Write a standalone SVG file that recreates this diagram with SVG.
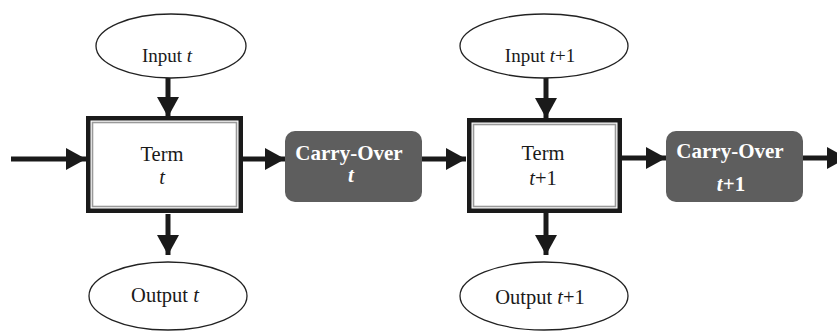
<svg xmlns="http://www.w3.org/2000/svg" width="837" height="331" viewBox="0 0 837 331">
<defs>
<marker id="ah" markerUnits="userSpaceOnUse" markerWidth="20" markerHeight="22" refX="20" refY="11" orient="auto">
<path d="M0,0 L20,11 L0,22 Z" fill="#1a1a1a"/>
</marker>
<style>
.ell{fill:#fff;stroke:#222;stroke-width:1.3}
.txt{font-family:"Liberation Serif",serif;font-size:19px;fill:#1a1a1a;text-anchor:middle}
.ot{font-size:20.5px}
.tt{font-size:20.5px}
.it{font-style:italic}
.outer{fill:#fff;stroke:#1a1a1a;stroke-width:4.5}
.inner{fill:none;stroke:#9a9a9a;stroke-width:1.6}
.carry{fill:#5e5e5e}
.ctxt{font-family:"Liberation Serif",serif;font-size:21px;font-weight:bold;fill:#fff;text-anchor:middle}
.conn{stroke:#1a1a1a;stroke-width:5;fill:none;marker-end:url(#ah)}
</style>
</defs>
<rect width="837" height="331" fill="#fff"/>
<g id="connectors">
<line class="conn" x1="11" y1="159" x2="86" y2="159"/>
<line class="conn" x1="243" y1="159" x2="285" y2="159"/>
<line class="conn" x1="422" y1="159" x2="466" y2="159"/>
<line class="conn" x1="622" y1="158" x2="666" y2="158"/>
<line class="conn" x1="803" y1="158" x2="847" y2="158"/>
<line class="conn" x1="168" y1="78" x2="168" y2="117"/>
<line class="conn" x1="546" y1="78" x2="546" y2="118"/>
<line class="conn" x1="168" y1="214" x2="168" y2="255"/>
<line class="conn" x1="546" y1="213" x2="546" y2="255"/>
</g>
<g id="input-t">
<ellipse class="ell" cx="171" cy="46" rx="75" ry="32"/>
<text class="txt" x="167" y="62">Input <tspan class="it">t</tspan></text>
</g>
<g id="input-t1">
<ellipse class="ell" cx="544" cy="46" rx="84" ry="32"/>
<text class="txt" x="540" y="62">Input <tspan class="it">t</tspan>+1</text>
</g>
<g id="term-t">
<rect class="outer" x="88.25" y="118.25" width="152.5" height="92.5"/>
<rect class="inner" x="92.5" y="122.5" width="144" height="84"/>
<text class="txt tt" x="162" y="161">Term</text>
<text class="txt tt it" x="162" y="184">t</text>
</g>
<g id="term-t1">
<rect class="outer" x="469.25" y="120.25" width="150.5" height="90.5"/>
<rect class="inner" x="473.5" y="124.5" width="142" height="82"/>
<text class="txt tt" x="543" y="160">Term</text>
<text class="txt tt" x="543" y="185"><tspan class="it">t</tspan>+1</text>
</g>
<g id="carry-t">
<rect class="carry" x="285" y="131" width="137" height="71" rx="10"/>
<text class="ctxt" x="349" y="160">Carry-Over</text>
<text class="ctxt it" x="351" y="182">t</text>
</g>
<g id="carry-t1">
<rect class="carry" x="666" y="131" width="137" height="71" rx="10"/>
<text class="ctxt" x="730" y="158">Carry-Over</text>
<text class="ctxt" x="731" y="191"><tspan class="it">t</tspan>+1</text>
</g>
<g id="output-t">
<ellipse class="ell" cx="168" cy="296" rx="79" ry="34"/>
<text class="txt ot" x="165" y="302">Output <tspan class="it">t</tspan></text>
</g>
<g id="output-t1">
<ellipse class="ell" cx="544" cy="296" rx="84" ry="34"/>
<text class="txt ot" x="540" y="304">Output <tspan class="it">t</tspan>+1</text>
</g>
</svg>
